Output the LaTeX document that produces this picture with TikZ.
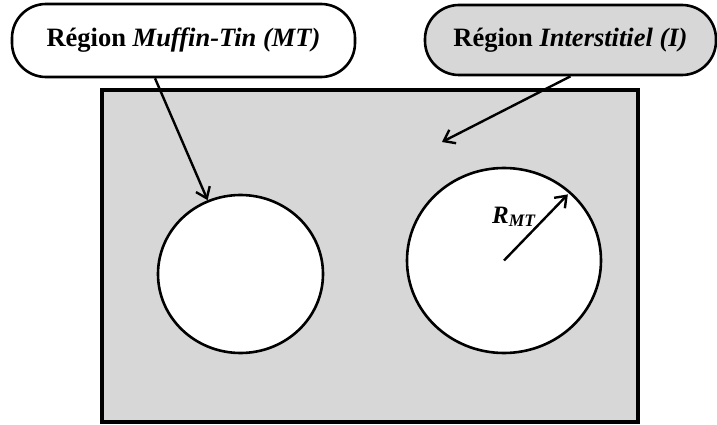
\documentclass[tikz,border=0pt]{standalone}
\usepackage{fontspec}
\setmainfont{Liberation Serif}
\usetikzlibrary{arrows.meta,shapes.geometric}
\definecolor{bggray}{RGB}{215,215,215}
\tikzset{
  bubble/.style={draw=black, line width=2.6pt, rounded corners=34pt, inner sep=0pt,
    font=\fontsize{26.5}{30}\selectfont\bfseries},
  hole/.style={draw=black, line width=2.6pt, fill=white, ellipse, inner sep=0pt},
  pointer/.style={line width=2.4pt, -{Straight Barb[length=10pt,width=15pt,line width=2.4pt]}},
}
\begin{document}
\begin{tikzpicture}[x=1pt,y=-1pt]
\useasboundingbox (0,0) rectangle (717,425);
\node[draw=black, line width=3.5pt, fill=bggray, minimum width=536pt, minimum height=332pt, inner sep=0pt] (box) at (370,256) {};
\node[hole, minimum width=165pt, minimum height=158pt] (lc) at (240.5,274) {};
\node[hole, minimum width=194pt, minimum height=185pt] (rc) at (504,260.5) {};
\node[bubble, fill=white, minimum width=343pt, minimum height=73pt] (mt) at (183.5,40.5) {Région \textit{Muffin-Tin (MT)}};
\node[bubble, fill=bggray, minimum width=291pt, minimum height=70pt] (it) at (570.5,40) {Région \textit{Interstitiel (I)}};
\coordinate (itend) at (442,142);
\draw[pointer] (mt.-127) -- (lc.114);
\draw[pointer] (it.south) -- (itend);
\draw[pointer, shorten >=4pt] (rc.center) -- (rc.46);
\node[font=\fontsize{25}{28}\selectfont\bfseries\itshape, inner sep=0pt, anchor=base west] (rmt) at (492,223) {R\textsubscript{MT}};
\end{tikzpicture}
\end{document}
